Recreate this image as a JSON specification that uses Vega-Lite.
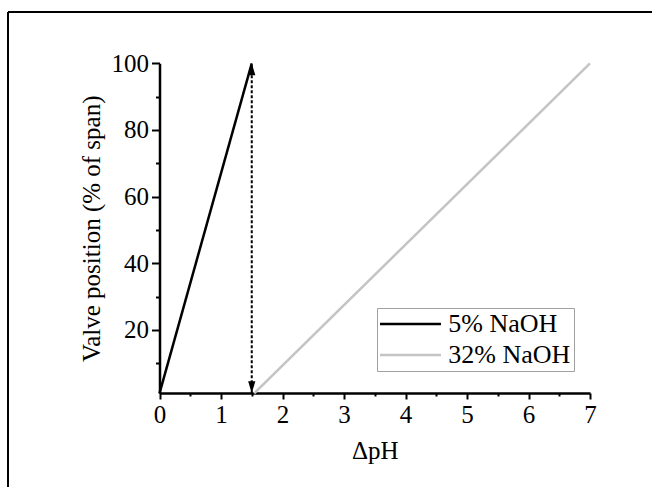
{
  "$schema": "https://vega.github.io/schema/vega-lite/v6.json",
  "width": 644,
  "height": 475,
  "autosize": {"type": "none"},
  "padding": {"left": 8, "top": 12, "right": 0, "bottom": 0},
  "background": "white",
  "config": {
    "view": {"stroke": null},
    "font": "Liberation Serif",
    "axis": {
      "labelFont": "Liberation Serif",
      "titleFont": "Liberation Serif",
      "labelColor": "black",
      "titleColor": "black",
      "domainColor": "black",
      "tickColor": "black",
      "titleFontWeight": "normal",
      "grid": false,
      "labelFlush": false,
      "labelOverlap": false
    }
  },
  "datasets": {
    "curves": [
      {"series": "5% NaOH", "dph": 0, "pos": 1},
      {"series": "5% NaOH", "dph": 1.5, "pos": 100},
      {"series": "32% NaOH", "dph": 1.54, "pos": 1},
      {"series": "32% NaOH", "dph": 7, "pos": 100}
    ],
    "span": [{"dph": 1.5, "lo": 1, "hi": 100}],
    "heads": [
      {"dph": 1.5, "pos": 100, "dir": "up"},
      {"dph": 1.5, "pos": 1, "dir": "down"}
    ],
    "frame": [{"fx": 0, "fy": 0}]
  },
  "resolve": {"scale": {"x": "independent", "y": "independent"}, "axis": {"x": "independent", "y": "independent"}},
  "layer": [
    {
      "data": {"name": "curves"},
      "mark": {"type": "line", "strokeWidth": 2.5},
      "encoding": {
        "x": {
          "field": "dph", "type": "quantitative",
          "scale": {"domain": [0, 7], "range": [151.5, 582], "nice": false, "zero": false},
          "axis": {
            "orient": "bottom", "offset": -94, "values": [0, 1, 2, 3, 4, 5, 6, 7], "format": "d",
            "tickSize": 6, "tickWidth": 2, "domainWidth": 2.5,
            "labelFontSize": 25, "labelPadding": 3,
            "title": "ΔpH", "titleFontSize": 25, "titlePadding": 11
          }
        },
        "y": {
          "field": "pos", "type": "quantitative",
          "scale": {"domain": [1, 100], "range": [381.3, 51.3], "nice": false, "zero": false},
          "axis": {
            "orient": "left", "offset": -151.5, "values": [20, 40, 60, 80, 100], "format": "d",
            "tickSize": 8, "tickWidth": 2, "domainWidth": 2.5,
            "labelFontSize": 25, "labelPadding": 3,
            "title": "Valve position (% of span)", "titleFontSize": 25, "titlePadding": 7
          }
        },
        "color": {
          "field": "series", "type": "nominal",
          "scale": {"domain": ["5% NaOH", "32% NaOH"], "range": ["black", "#c4c4c4"]},
          "legend": {
            "title": null, "orient": "none", "legendX": 369, "legendY": 296,
            "strokeColor": "#a0a0a0", "padding": 3, "rowPadding": 5,
            "labelFont": "Liberation Serif", "labelFontSize": 26, "labelColor": "black",
            "symbolType": "M-1.13,0H4.17", "symbolSize": 529, "symbolStrokeWidth": 2.5,
            "labelOffset": 42.3
          }
        }
      }
    },
    {
      "data": {"name": "span"},
      "mark": {"type": "rule", "strokeWidth": 2, "strokeDash": [3, 2], "color": "black"},
      "encoding": {
        "x": {
          "field": "dph", "type": "quantitative",
          "scale": {"domain": [0, 7], "range": [151.5, 582], "nice": false, "zero": false},
          "axis": {
            "orient": "bottom", "offset": -94, "values": [0.5, 1.5, 2.5, 3.5, 4.5, 5.5, 6.5],
            "labels": false, "domain": false, "tickSize": 3, "tickWidth": 2, "title": null
          }
        },
        "y": {
          "field": "lo", "type": "quantitative",
          "scale": {"domain": [1, 100], "range": [381.3, 51.3], "nice": false, "zero": false},
          "axis": {
            "orient": "left", "offset": -151.5, "values": [10, 30, 50, 70, 90],
            "labels": false, "domain": false, "tickSize": 4, "tickWidth": 2, "title": null
          }
        },
        "y2": {"field": "hi"}
      }
    },
    {
      "data": {"name": "heads"},
      "mark": {"type": "point", "filled": true, "color": "black", "size": 576, "opacity": 1, "strokeWidth": 0},
      "encoding": {
        "x": {
          "field": "dph", "type": "quantitative",
          "scale": {"domain": [0, 7], "range": [151.5, 582], "nice": false, "zero": false},
          "axis": null
        },
        "y": {
          "field": "pos", "type": "quantitative",
          "scale": {"domain": [1, 100], "range": [381.3, 51.3], "nice": false, "zero": false},
          "axis": null
        },
        "shape": {
          "field": "dir", "type": "nominal",
          "scale": {"domain": ["up", "down"], "range": ["M0,0L-0.3,1L0.3,1Z", "M0,0L-0.3,-1L0.3,-1Z"]},
          "legend": null
        }
      }
    },
    {
      "data": {"name": "frame"},
      "mark": {"type": "point", "opacity": 0},
      "encoding": {
        "x": {
          "field": "fx", "type": "quantitative",
          "scale": {"domain": [0, 1]},
          "axis": {"orient": "top", "offset": 0, "translate": 0, "ticks": false, "labels": false, "domain": true, "domainWidth": 2, "domainColor": "black", "title": null}
        },
        "y": {
          "field": "fy", "type": "quantitative",
          "scale": {"domain": [0, 1]},
          "axis": {"orient": "left", "offset": 0, "translate": 0, "ticks": false, "labels": false, "domain": true, "domainWidth": 2, "domainColor": "black", "title": null}
        }
      }
    }
  ]
}
